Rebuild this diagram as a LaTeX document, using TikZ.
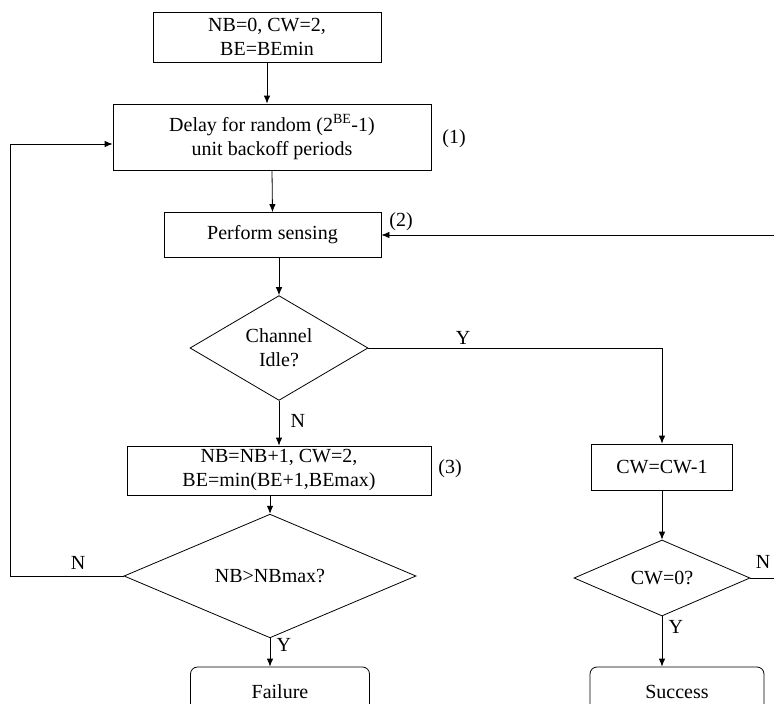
\documentclass[tikz,border=0pt]{standalone}
\usepackage{fontspec}
\setmainfont{Liberation Serif}
\usetikzlibrary{arrows.meta}
\usetikzlibrary{shapes.geometric}

\begin{document}
\begin{tikzpicture}[x=1pt,y=-1pt,>={Latex[length=8pt,width=6.5pt]},
  font=\fontsize{20}{24}\selectfont,
  box/.style={draw, line width=.8pt, align=center, inner sep=2pt},
  decision/.style={draw, diamond, line width=.8pt, align=center, inner sep=0pt},
  endbox/.style={draw, rounded corners=7pt, line width=.8pt, align=center},
  flow/.style={line width=.8pt, ->}]
\useasboundingbox (0,0) rectangle (774,704);
\clip (0,0) rectangle (774,704);

% boxes and decisions
\node[box, minimum width=228, minimum height=50] (init) at (267,37) {NB=0, CW=2,\\BE=BEmin};
\node[box, minimum width=318, minimum height=66] (delay) at (272,137) {Delay for random (2\textsuperscript{BE}-1)\\unit backoff periods};
\node[box, minimum width=217, minimum height=45] (sense) at (272.5,235) {Perform sensing};
\node[decision, minimum width=178, minimum height=90] (idle) at (279,348) {Channel\\Idle?};
\node[box, minimum width=304, minimum height=49] (backoff) at (279,470.5) {NB=NB+1, CW=2,\\BE=min(BE+1,BEmax)};
\node[decision, minimum width=292, minimum height=66] (nbmax) at (270,576) {NB>NBmax?};
\node[endbox, minimum width=179, minimum height=50] (fail) at (280,692) {Failure};
\node[box, minimum width=141, minimum height=46] (cwdec) at (662,467) {CW=CW-1};
\node[decision, minimum width=176, minimum height=76] (cwzero) at (662,578) {CW=0?};
\node[endbox, minimum width=174, minimum height=50] (success) at (677,692) {Success};

% step numbers
\node (n1) at (454,139) {(1)};
\node (n2) at (401,222) {(2)};
\node (n3) at (450,469) {(3)};

% loop corners
\coordinate (back) at (10,144);
\coordinate (turn) at (795,578);

\draw[flow] (init.south) -- (init.south |- delay.north);
\draw[flow] (delay.south) -- (sense.north);
\draw[flow] (sense.south -| idle.north) -- (idle.north);
\draw[flow] (idle.south) -- (backoff.north) node[pos=.45, right=8pt] (no1) {N};
\draw[flow] (backoff.south -| nbmax.north) -- (nbmax.north);
\draw[flow] (nbmax.south) -- (nbmax.south |- fail.north) node[pos=.22, right=3pt] (yes2) {Y};
\draw[flow] (nbmax.west) -| (back) -- (back -| delay.west);
\node (no2) at (78,563) {N};
\draw[flow] (idle.east) -| (cwdec.north);
\node (yes1) at (463,338) {Y};
\draw[flow] (cwdec.south) -- (cwzero.north);
\draw[flow] (cwzero.south) -- (cwzero.south |- success.north) node[pos=.22, right=3pt] (yes3) {Y};
\draw[flow] (cwzero.east) -- (turn) |- (sense.east);
\node (no3) at (763,562) {N};
\end{tikzpicture}
\end{document}
